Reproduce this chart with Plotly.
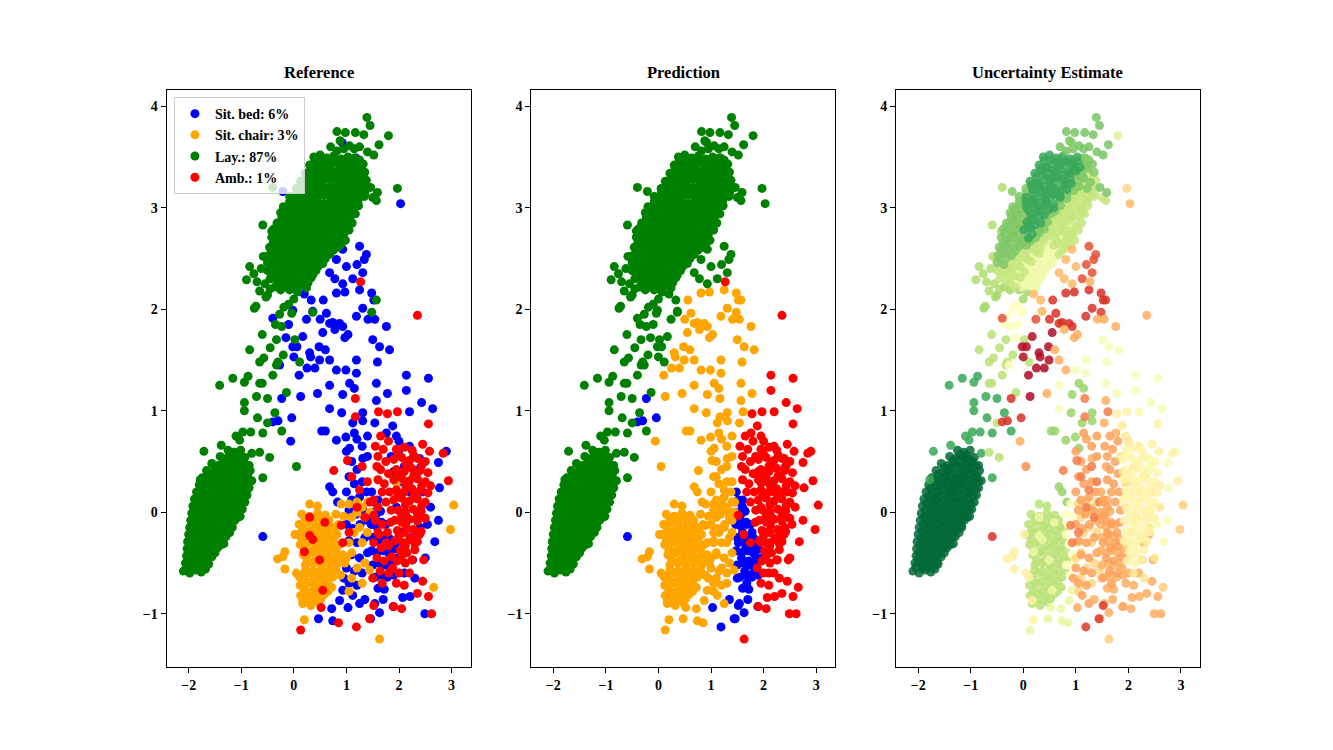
import plotly.graph_objects as go

CLASS_NAMES = ["Sit. bed: 6%", "Sit. chair: 3%", "Lay.: 87%", "Amb.: 1%"]
CLASS_COLORS = ["blue", "orange", "green", "red"]
PANEL_TITLES = ["Reference", "Prediction", "Uncertainty Estimate"]
X_TICKS = [-2, -1, 0, 1, 2, 3]
Y_TICKS = [-1, 0, 1, 2, 3, 4]

# class codes: 0 Sit. bed, 1 Sit. chair, 2 Lay., 3 Amb.
# each list holds (x, y) points

# lower "Lay" cluster
lay_low = [
    (-2.1, -0.58), (-1.98, -0.6), (-1.86, -0.57), (-1.76, -0.59),
    (-2.06, -0.5), (-1.94, -0.52), (-1.82, -0.5), (-1.7, -0.53), (-1.62, -0.51),
    (-2.04, -0.43), (-1.92, -0.45), (-1.8, -0.43), (-1.68, -0.46), (-1.56, -0.44),
    (-2.03, -0.36), (-1.91, -0.38), (-1.79, -0.36), (-1.67, -0.39), (-1.55, -0.37), (-1.45, -0.35),
    (-2.02, -0.29), (-1.9, -0.31), (-1.78, -0.29), (-1.66, -0.32), (-1.54, -0.3), (-1.42, -0.28), (-1.33, -0.31),
    (-2.0, -0.22), (-1.88, -0.24), (-1.76, -0.22), (-1.64, -0.25), (-1.52, -0.23), (-1.4, -0.21), (-1.29, -0.24),
    (-1.98, -0.15), (-1.86, -0.17), (-1.74, -0.15), (-1.62, -0.18), (-1.5, -0.16), (-1.38, -0.14), (-1.26, -0.17), (-1.17, -0.15),
    (-1.96, -0.08), (-1.84, -0.1), (-1.72, -0.08), (-1.6, -0.11), (-1.48, -0.09), (-1.36, -0.07), (-1.24, -0.1), (-1.12, -0.08),
    (-1.94, -0.01), (-1.82, -0.03), (-1.7, -0.01), (-1.58, -0.04), (-1.46, -0.02), (-1.34, 0.0), (-1.22, -0.03), (-1.1, -0.01), (-1.02, -0.04),
    (-1.92, 0.06), (-1.8, 0.04), (-1.68, 0.06), (-1.56, 0.03), (-1.44, 0.05), (-1.32, 0.07), (-1.2, 0.04), (-1.08, 0.06), (-0.98, 0.03),
    (-1.89, 0.13), (-1.77, 0.11), (-1.65, 0.13), (-1.53, 0.1), (-1.41, 0.12), (-1.29, 0.14), (-1.17, 0.11), (-1.05, 0.13), (-0.93, 0.1),
    (-1.85, 0.2), (-1.73, 0.18), (-1.61, 0.2), (-1.49, 0.17), (-1.37, 0.19), (-1.25, 0.21), (-1.13, 0.18), (-1.01, 0.2), (-0.89, 0.17),
    (-1.8, 0.27), (-1.68, 0.25), (-1.56, 0.27), (-1.44, 0.24), (-1.32, 0.26), (-1.2, 0.28), (-1.08, 0.25), (-0.96, 0.27), (-0.85, 0.24),
    (-1.74, 0.34), (-1.62, 0.32), (-1.5, 0.34), (-1.38, 0.31), (-1.26, 0.33), (-1.14, 0.35), (-1.02, 0.32), (-0.9, 0.34), (-0.8, 0.31),
    (-1.66, 0.41), (-1.54, 0.39), (-1.42, 0.41), (-1.3, 0.38), (-1.18, 0.4), (-1.06, 0.42), (-0.94, 0.39), (-0.83, 0.41),
    (-1.56, 0.48), (-1.44, 0.46), (-1.32, 0.48), (-1.2, 0.45), (-1.08, 0.47), (-0.96, 0.49), (-0.85, 0.46),
    (-1.4, 0.55), (-1.28, 0.53), (-1.16, 0.55), (-1.04, 0.52), (-0.93, 0.54),
    (-1.25, 0.61), (-1.13, 0.59), (-1.01, 0.61),
    # in between the rows above
    (-2.04, -0.54), (-1.92, -0.55), (-1.8, -0.54), (-1.68, -0.56),
    (-2.0, -0.47), (-1.88, -0.48), (-1.76, -0.47), (-1.64, -0.49),
    (-1.98, -0.4), (-1.86, -0.41), (-1.74, -0.4), (-1.62, -0.42), (-1.5, -0.4),
    (-1.96, -0.33), (-1.84, -0.34), (-1.72, -0.33), (-1.6, -0.35), (-1.48, -0.33), (-1.38, -0.32),
    (-1.94, -0.26), (-1.82, -0.27), (-1.7, -0.26), (-1.58, -0.28), (-1.46, -0.26), (-1.35, -0.25),
    (-1.92, -0.19), (-1.8, -0.2), (-1.68, -0.19), (-1.56, -0.21), (-1.44, -0.19), (-1.32, -0.18), (-1.22, -0.2),
    (-1.9, -0.12), (-1.78, -0.13), (-1.66, -0.12), (-1.54, -0.14), (-1.42, -0.12), (-1.3, -0.11), (-1.18, -0.13),
    (-1.88, -0.05), (-1.76, -0.06), (-1.64, -0.05), (-1.52, -0.07), (-1.4, -0.05), (-1.28, -0.04), (-1.16, -0.06), (-1.06, -0.05),
    (-1.86, 0.02), (-1.74, 0.01), (-1.62, 0.02), (-1.5, 0.0), (-1.38, 0.02), (-1.26, 0.03), (-1.14, 0.01), (-1.03, 0.02),
    (-1.84, 0.09), (-1.71, 0.08), (-1.59, 0.09), (-1.47, 0.07), (-1.35, 0.09), (-1.23, 0.1), (-1.11, 0.08), (-0.99, 0.09),
    (-1.8, 0.16), (-1.67, 0.15), (-1.55, 0.16), (-1.43, 0.14), (-1.31, 0.16), (-1.19, 0.17), (-1.07, 0.15), (-0.95, 0.16),
    (-1.76, 0.23), (-1.62, 0.22), (-1.5, 0.23), (-1.38, 0.21), (-1.26, 0.23), (-1.14, 0.24), (-1.02, 0.22), (-0.9, 0.23),
    (-1.7, 0.3), (-1.56, 0.29), (-1.44, 0.3), (-1.32, 0.28), (-1.2, 0.3), (-1.08, 0.31), (-0.96, 0.29), (-0.85, 0.3),
    (-1.62, 0.37), (-1.48, 0.36), (-1.36, 0.37), (-1.24, 0.35), (-1.12, 0.37), (-1.0, 0.38), (-0.88, 0.36),
    (-1.5, 0.44), (-1.38, 0.43), (-1.26, 0.44), (-1.14, 0.42), (-1.02, 0.44), (-0.9, 0.45),
    (-1.34, 0.51), (-1.22, 0.5), (-1.1, 0.51), (-0.98, 0.5),
    (-1.2, 0.57), (-1.08, 0.56),
]

# upper "Lay" cluster, split by how certain the estimate looks
lay_up_dark = [
    (0.38, 3.5), (0.5, 3.52), (0.63, 3.49), (0.76, 3.51), (0.9, 3.48), (1.03, 3.5),
    (0.3, 3.42), (0.43, 3.4), (0.56, 3.43), (0.69, 3.41), (0.82, 3.44), (0.95, 3.42), (1.08, 3.4),
    (0.22, 3.34), (0.35, 3.36), (0.48, 3.33), (0.61, 3.35), (0.74, 3.32), (0.87, 3.34), (1.0, 3.36),
    (0.13, 3.26), (0.26, 3.24), (0.39, 3.27), (0.52, 3.25), (0.65, 3.28), (0.78, 3.26), (0.91, 3.24),
    (0.18, 3.18), (0.31, 3.2), (0.44, 3.17), (0.57, 3.19), (0.7, 3.16), (0.83, 3.18),
    (0.05, 3.1), (0.18, 3.08), (0.31, 3.11), (0.44, 3.09), (0.57, 3.12), (0.7, 3.1),
    (0.06, 3.02), (0.19, 3.04), (0.32, 3.01), (0.45, 3.03), (0.58, 3.0),
    (0.14, 2.94), (0.27, 2.96), (0.4, 2.93),
    (0.07, 2.86), (0.2, 2.88), (0.33, 2.85),
    (0.01, 2.78), (0.14, 2.8), (0.1, 2.7),
    # in between the rows above
    (0.4, 3.46), (0.53, 3.47), (0.66, 3.45), (0.79, 3.46), (0.92, 3.44), (1.05, 3.46),
    (0.32, 3.38), (0.45, 3.39), (0.58, 3.37), (0.71, 3.38), (0.84, 3.36), (0.97, 3.38),
    (0.24, 3.3), (0.37, 3.31), (0.5, 3.29), (0.63, 3.3), (0.76, 3.28), (0.89, 3.3),
    (0.15, 3.22), (0.28, 3.23), (0.41, 3.21), (0.54, 3.22), (0.67, 3.2), (0.8, 3.22),
    (0.18, 3.14), (0.31, 3.15), (0.44, 3.13), (0.57, 3.14), (0.7, 3.12),
    (0.05, 3.06), (0.18, 3.07), (0.31, 3.05), (0.44, 3.06), (0.57, 3.04),
    (0.09, 2.98), (0.22, 2.99), (0.35, 2.97), (0.48, 2.98),
    (0.16, 2.9), (0.29, 2.91), (0.09, 2.82), (0.22, 2.83), (0.17, 2.74),
]
lay_up_mid = [
    (1.15, 3.49), (1.25, 3.47), (1.2, 3.41), (1.32, 3.43), (1.12, 3.33), (1.35, 3.35), (1.04, 3.27),
    (1.28, 3.25), (0.05, 3.19), (0.96, 3.17), (1.22, 3.19), (-0.08, 3.11), (0.83, 3.09), (-0.2, 3.01),
    (-0.07, 3.03), (0.71, 3.02), (-0.25, 2.95), (-0.12, 2.93), (0.01, 2.95), (0.53, 2.94),
    (-0.32, 2.85), (-0.19, 2.87), (-0.06, 2.84), (0.46, 2.86), (-0.38, 2.79), (-0.25, 2.77),
    (-0.12, 2.79), (0.27, 2.77), (0.4, 2.79), (-0.42, 2.71), (-0.29, 2.69), (-0.16, 2.71),
    (-0.03, 2.68), (0.23, 2.7), (-0.46, 2.61), (-0.33, 2.63), (-0.2, 2.6), (-0.07, 2.62),
    (0.06, 2.63), (-0.48, 2.53), (-0.35, 2.55), (-0.22, 2.53), (-0.5, 2.46), (-0.37, 2.44),
    # in between the rows above
    (1.18, 3.45), (1.1, 3.37), (1.23, 3.39), (1.02, 3.31), (1.15, 3.29), (0.93, 3.23), (1.06, 3.21),
    (0.05, 3.14), (0.83, 3.13), (-0.08, 3.06), (0.7, 3.07), (-0.17, 2.98), (-0.04, 2.99), (0.61, 2.97),
    (-0.23, 2.9), (-0.1, 2.91), (0.03, 2.89), (0.42, 2.9), (-0.3, 2.82), (-0.17, 2.83), (-0.04, 2.81),
    (0.35, 2.82), (-0.35, 2.74), (-0.22, 2.75), (-0.09, 2.73), (0.04, 2.74), (0.3, 2.75),
    (-0.39, 2.66), (-0.26, 2.67), (-0.13, 2.65), (0.0, 2.66), (0.13, 2.67), (-0.42, 2.58),
    (-0.29, 2.59), (-0.16, 2.57), (-0.44, 2.5), (-0.31, 2.51),
]
lay_up_light = [
    (1.24, 3.33), (1.16, 3.25), (1.38, 3.27), (1.09, 3.19), (1.36, 3.17),
    (0.96, 3.1), (1.09, 3.12), (1.22, 3.09), (1.34, 3.11), (1.5, 3.1), (1.57, 3.07),
    (0.84, 3.01), (0.97, 3.03), (1.1, 3.0), (1.23, 3.02),
    (0.66, 2.93), (0.79, 2.95), (0.92, 2.92), (1.17, 2.94),
    (0.59, 2.87), (0.72, 2.85), (0.85, 2.87), (1.11, 2.85),
    (0.53, 2.78), (0.66, 2.76), (0.79, 2.79), (0.92, 2.77), (1.05, 2.78),
    (0.36, 2.7), (0.49, 2.72), (0.62, 2.69), (0.88, 2.71), (0.98, 2.68),
    (0.19, 2.62), (0.32, 2.6), (0.58, 2.63), (0.84, 2.61),
    (-0.09, 2.55), (0.04, 2.53), (0.3, 2.55), (0.68, 2.54),
    (-0.24, 2.47), (-0.11, 2.45), (0.15, 2.47),
    (-0.5, 2.38), (-0.37, 2.36), (-0.24, 2.39), (0.02, 2.37),
    (-0.45, 2.3), (-0.32, 2.28), (-0.06, 2.31), (-0.15, 2.22),
    # in between the rows above
    (1.28, 3.29), (1.19, 3.21), (1.32, 3.22), (0.96, 3.14), (1.09, 3.15), (1.22, 3.13), (1.35, 3.14),
    (0.83, 3.06), (0.96, 3.07), (1.09, 3.05), (1.22, 3.06), (0.74, 2.98), (0.87, 2.99), (1.0, 2.97),
    (1.13, 2.98), (0.55, 2.9), (0.68, 2.91), (0.81, 2.89), (0.94, 2.9), (1.07, 2.91), (0.48, 2.82),
    (0.61, 2.83), (0.74, 2.81), (1.0, 2.82), (0.43, 2.74), (0.56, 2.75), (0.82, 2.73), (0.95, 2.74),
    (0.26, 2.66), (0.39, 2.67), (0.65, 2.65), (0.78, 2.66), (0.9, 2.64), (-0.03, 2.58), (0.1, 2.59),
    (0.23, 2.57), (0.75, 2.58), (-0.18, 2.5), (-0.05, 2.51), (0.08, 2.49), (-0.45, 2.42),
    (-0.32, 2.43), (-0.19, 2.41), (-0.06, 2.42), (-0.42, 2.34), (-0.29, 2.35), (-0.16, 2.33),
    (-0.25, 2.26),
]
lay_up_yellow = [
    (1.05, 2.93), (0.98, 2.86), (0.75, 2.7), (0.45, 2.62), (0.71, 2.61), (0.17, 2.54), (0.43, 2.55),
    (0.56, 2.53), (0.02, 2.46), (0.28, 2.45), (0.41, 2.47), (0.55, 2.45), (-0.11, 2.38), (0.15, 2.39),
    (0.28, 2.37), (0.42, 2.38), (-0.19, 2.3), (0.07, 2.31), (0.2, 2.29), (0.33, 2.31), (-0.02, 2.22),
    (0.11, 2.23), (0.24, 2.21),
    # in between the rows above
    (0.87, 2.82), (0.69, 2.74), (0.52, 2.66), (0.36, 2.58), (0.49, 2.59), (0.62, 2.57), (0.21, 2.5),
    (0.34, 2.51), (0.47, 2.49), (0.6, 2.5), (0.07, 2.42), (0.2, 2.43), (0.33, 2.41), (0.46, 2.42),
    (-0.03, 2.34), (0.1, 2.35), (0.23, 2.33), (0.36, 2.34), (-0.12, 2.26), (0.01, 2.27), (0.14, 2.25),
    (0.27, 2.26),
]
lay_arm = [
    (-0.9, 2.29), (-0.84, 2.42), (-0.58, 2.52), (-0.7, 2.27), (-0.62, 2.4), (-0.76, 2.35),
    (-0.55, 2.25), (-0.45, 2.2), (-0.65, 2.18), (-0.59, 2.83), (-0.4, 3.2), (-0.42, 2.77),
]
lay_top = [
    (1.39, 3.89), (1.45, 3.81), (0.82, 3.75), (0.98, 3.74), (1.17, 3.74), (1.33, 3.72), (0.88, 3.66),
    (1.06, 3.61), (0.82, 3.56), (1.62, 3.62), (1.52, 3.52), (1.59, 3.15), (1.46, 3.2), (1.25, 3.6),
    (1.4, 3.55), (0.95, 3.58), (1.15, 3.58), (0.7, 3.6),
]
lay_top_pale = [(1.8, 3.71)]
lay_far = [(1.97, 3.19)]

# "Lay" points between the two clusters
lay_bridge_a = [
    (-1.71, 0.6), (-1.38, 0.66), (-1.78, 0.32), (-1.03, 0.71), (-0.97, 0.79), (-0.82, 0.79),
    (-0.59, 0.78), (-0.59, 0.34), (-0.23, 0.8), (-0.36, 0.98), (-0.69, 0.93), (-0.94, 1.0),
    (-0.94, 1.08), (-0.71, 1.14), (-0.5, 1.12), (-1.41, 1.25), (-1.16, 1.32), (-0.94, 1.28),
    (-0.87, 1.34), (-1.1, 0.75), (-0.8, 0.58),
]
lay_bridge_b = [
    (-0.65, 0.59), (-0.46, 0.54), (-0.14, 1.18), (-0.65, 1.27), (-0.6, 1.27), (-0.84, 1.6),
    (-0.65, 1.48), (-0.57, 1.52), (-0.33, 1.45), (-0.3, 1.48), (0.02, 1.7), (0.11, 1.48),
    (-0.33, 1.7), (-0.5, 0.88), (-0.4, 1.35), (-0.2, 1.55), (-0.45, 1.62), (-0.6, 1.75),
]
lay_bridge_c = [(-0.23, 1.83), (-0.27, 1.95), (-0.19, 2.02), (-0.04, 1.96), (-0.35, 1.85), (-0.1, 2.05), (0.36, 1.97)]
lay_bridge_d = [
    (-0.75, 2.01), (-0.72, 2.03), (-0.5, 2.14), (-0.53, 2.12), (-0.36, 2.22), (-0.25, 2.19),
    (-0.08, 2.19), (0.07, 2.17), (0.0, 2.1),
]
lay_to_chair = [(0.05, 0.45)]
lay_to_chair_hot = [(1.57, 2.09), (1.48, 1.97)]

# "Sit. bed" reference points, split by predicted class and certainty
bed_lay_a = [(0.93, 2.59), (0.81, 2.49), (0.68, 2.36), (0.93, 2.25), (1.0, 2.42), (0.78, 2.3),
             (0.2, 2.15), (0.33, 2.09), (0.36, 1.98), (2.03, 3.04)]
bed_lay_b = [(1.38, 2.54), (1.34, 2.49), (1.31, 2.36), (1.12, 2.3), (1.2, 2.44), (-0.4, 1.91),
             (1.25, 2.62), (0.24, 1.9)]
bed_lay_c = [(0.17, 1.73), (-0.02, 1.63), (0.0, 1.53), (0.06, 1.63)]
bed_lay_d = [(-0.02, 1.99), (-0.1, 1.85), (-0.27, 1.45), (-0.15, 1.72)]
bed_lay_e = [(-0.21, 3.16), (0.92, 3.64), (1.18, 3.49)]

bed_chair_a = [(0.81, 2.16), (0.56, 2.09), (0.97, 2.17), (0.68, 1.86), (0.5, 1.9), (0.87, 1.86),
               (1.19, 1.93), (1.25, 2.19), (1.48, 2.16), (1.52, 2.09), (1.31, 2.01), (0.62, 1.96),
               (0.74, 1.87), (0.93, 1.83)]
bed_chair_b = [(0.3, 1.57), (0.49, 1.5), (0.1, 1.35), (0.32, 1.53), (0.48, 1.63), (0.4, 1.42),
               (0.25, 1.42), (0.55, 1.77), (0.13, 1.14)]
bed_chair_c = [(0.78, 1.8), (0.97, 1.72), (1.03, 1.75), (1.41, 1.9), (1.54, 1.9), (1.76, 1.83),
               (0.81, 1.4), (0.68, 1.5), (0.6, 1.6), (1.57, 1.1), (1.54, 0.88), (1.31, 0.53),
               (-0.06, 0.7), (0.45, 1.17)]
bed_chair_d = [(1.19, 1.37), (1.19, 1.5), (1.5, 1.7), (1.63, 1.63), (1.82, 1.6), (1.59, 1.48),
               (0.68, 1.25), (1.57, 1.27), (1.78, 1.17), (0.68, 1.02), (0.99, 1.4)]
bed_chair_e = [(0.93, 1.16), (1.06, 1.27), (1.15, 1.22), (0.91, 0.98), (0.53, 0.8), (0.6, 0.8),
               (0.81, 0.71), (0.99, 0.74), (1.12, 0.88), (1.31, 0.98), (1.31, 0.9), (1.06, 0.63),
               (0.68, 0.25), (0.74, 0.2), (0.83, 0.1)]
bed_chair_lr = [
    (1.0, 0.6), (1.1, 0.5), (1.2, 0.42), (1.05, 0.35), (1.15, 0.28), (1.3, 0.3), (1.0, 0.2),
    (1.1, 0.12), (1.25, 0.15), (1.38, 0.2), (1.05, 0.02), (1.18, -0.02), (1.32, 0.02), (1.0, -0.12),
    (1.12, -0.16), (1.26, -0.12), (1.4, -0.08), (1.05, -0.28), (1.2, -0.3), (1.35, -0.25),
    (1.1, -0.42), (1.25, -0.45), (1.4, -0.4), (1.0, -0.55), (1.15, -0.58), (1.3, -0.6),
    (1.05, -0.7), (1.2, -0.72), (0.95, -0.65), (1.12, -0.82), (1.25, -0.9), (1.2, 0.72),
    (1.3, 0.65), (1.4, 0.55), (1.4, 0.75), (1.15, 0.78),
]
bed_chair_low = [(0.93, -0.77), (0.87, -0.87), (0.72, -0.95), (0.74, -1.07), (0.47, -1.05)]
bed_amb_a = [(2.14, 1.35), (2.56, 1.32), (2.14, 1.2), (2.43, 1.08), (2.64, 1.02), (2.2, 0.99),
             (1.99, 0.59), (2.39, 0.53), (2.41, 0.44), (2.75, 0.49), (2.9, 0.6), (2.77, 0.24),
             (2.54, -0.12), (2.75, -0.08), (2.68, -0.29)]
bed_amb_b = [(1.76, 0.78), (2.26, -0.47), (2.07, -0.84), (2.21, -0.83), (2.49, -1.0)]
bed_amb_lr = [
    (1.9, 0.4), (2.0, 0.3), (2.1, 0.45), (2.2, 0.2), (2.3, 0.35), (1.95, 0.05), (2.15, -0.05),
    (2.35, 0.0), (2.45, 0.2), (2.05, -0.2), (2.25, -0.25), (2.4, -0.15), (1.95, -0.3), (2.1, -0.6),
    (2.3, -0.65), (2.0, 0.7), (2.2, 0.65), (2.5, -0.45), (2.6, 0.05), (1.85, 0.55), (1.88, 0.85),
    (1.95, 0.75),
]
bed_bed_mid = [(-0.04, 0.93), (-0.23, 1.12), (-0.4, 0.89), (-0.3, 0.9), (-0.59, -0.24)]
bed_bed_lr = [
    (1.48, 0.2), (1.52, 0.1), (1.6, 0.12), (1.48, 0.0), (1.57, -0.02), (1.65, 0.01), (1.47, -0.12),
    (1.57, -0.14), (1.67, -0.1), (1.75, -0.12), (1.5, -0.25), (1.6, -0.28), (1.72, -0.24),
    (1.82, -0.26), (1.48, -0.38), (1.58, -0.4), (1.7, -0.38), (1.8, -0.4), (1.92, -0.36),
    (1.5, -0.52), (1.62, -0.5), (1.74, -0.52), (1.86, -0.5), (1.96, -0.45), (1.55, -0.64),
    (1.66, -0.62), (1.78, -0.64), (1.9, -0.62), (1.6, -0.75), (1.72, -0.76), (1.54, -0.9),
    (1.63, -0.99), (1.46, -1.05), (1.89, -0.93), (1.7, -0.86), (1.35, -0.86), (1.03, -0.94),
]

# "Sit. chair" reference points
chair_main = [
    (0.3, 0.08), (0.45, 0.06),
    (0.15, -0.02), (0.3, -0.04), (0.45, -0.01), (0.6, -0.03),
    (0.1, -0.12), (0.25, -0.1), (0.4, -0.13), (0.55, -0.11), (0.7, -0.14),
    (0.08, -0.22), (0.22, -0.2), (0.37, -0.23), (0.52, -0.21), (0.67, -0.24),
    (0.12, -0.32), (0.27, -0.3), (0.42, -0.33), (0.57, -0.31), (0.72, -0.34),
    (0.18, -0.42), (0.33, -0.4), (0.48, -0.43), (0.63, -0.41), (0.78, -0.44),
    (0.22, -0.52), (0.37, -0.5), (0.52, -0.53), (0.67, -0.51),
    (0.14, -0.62), (0.29, -0.6), (0.44, -0.63), (0.59, -0.61), (0.74, -0.64),
    (0.12, -0.72), (0.27, -0.7), (0.42, -0.73), (0.57, -0.71), (0.72, -0.74),
    (0.13, -0.82), (0.28, -0.8), (0.43, -0.83), (0.58, -0.81),
    (0.17, -0.9), (0.32, -0.92), (0.47, -0.89),
    # in between the rows above
    (0.22, -0.07), (0.37, -0.08), (0.52, -0.06), (0.67, -0.08),
    (0.17, -0.17), (0.32, -0.18), (0.47, -0.16), (0.62, -0.18), (0.77, -0.17),
    (0.15, -0.27), (0.3, -0.28), (0.45, -0.26), (0.6, -0.28), (0.75, -0.27),
    (0.2, -0.37), (0.35, -0.38), (0.5, -0.36), (0.65, -0.38), (0.8, -0.37),
    (0.25, -0.47), (0.4, -0.48), (0.55, -0.46), (0.7, -0.48), (0.85, -0.47),
    (0.22, -0.57), (0.37, -0.58), (0.52, -0.56), (0.67, -0.58), (0.8, -0.57),
    (0.2, -0.67), (0.35, -0.68), (0.5, -0.66), (0.65, -0.68),
    (0.2, -0.77), (0.35, -0.78), (0.5, -0.76), (0.65, -0.78),
    (0.22, -0.86), (0.37, -0.87), (0.52, -0.85),
]
chair_mid = [(0.9, 0.08), (0.8, -0.02), (0.95, -0.04), (0.85, -0.12), (0.82, -0.22), (0.87, -0.32),
             (0.93, -0.42), (0.82, -0.52), (0.97, -0.5), (0.89, -0.62)]
chair_right = [(1.05, 0.08), (1.2, 0.1), (1.1, -0.05), (1.2, 0.0), (1.3, 0.05), (1.4, 0.1),
               (1.05, -0.3), (1.15, -0.2), (1.25, -0.15), (1.35, -0.05), (1.45, 0.0), (1.0, -0.45),
               (1.1, -0.4), (1.3, -0.3), (1.4, -0.2), (1.2, -0.55), (1.35, -0.5), (1.44, -0.57),
               (1.1, -0.65), (1.3, -0.7), (1.05, -0.78)]
chair_out = [(0.02, -0.22), (-0.17, -0.39), (-0.21, -0.44), (-0.31, -0.46), (-0.17, -0.56),
             (0.11, -0.64), (0.17, -0.87), (0.2, -1.06), (0.05, -0.6)]
chair_amb = [(1.95, 0.29), (2.66, -0.74), (3.04, 0.07), (2.98, -0.17), (1.63, -1.25)]

# "Amb." reference points
amb_core = [
    (1.95, 0.62), (2.1, 0.64), (2.25, 0.61),
    (1.9, 0.52), (2.05, 0.54), (2.2, 0.51), (2.35, 0.53), (2.5, 0.5),
    (1.95, 0.42), (2.1, 0.4), (2.25, 0.43), (2.4, 0.41), (2.55, 0.39),
    (1.9, 0.32), (2.05, 0.34), (2.2, 0.31), (2.35, 0.33), (2.5, 0.3),
    (1.95, 0.22), (2.1, 0.2), (2.25, 0.23), (2.4, 0.21), (2.55, 0.19),
    (1.9, 0.12), (2.05, 0.14), (2.2, 0.11), (2.35, 0.13), (2.5, 0.1),
    (1.98, 0.02), (2.12, 0.0), (2.27, 0.03), (2.42, 0.01),
    (1.92, -0.08), (2.05, -0.1), (2.2, -0.07), (2.35, -0.09), (2.5, -0.06),
    (1.97, -0.18), (2.12, -0.2), (2.27, -0.17), (2.42, -0.19),
    (1.92, -0.28), (2.07, -0.3), (2.2, -0.27), (2.35, -0.29),
    (2.02, -0.38), (2.15, -0.4), (2.3, -0.37),
    (1.97, -0.48), (2.12, -0.5), (2.25, -0.47),
    # in between the rows above
    (1.98, 0.57), (2.28, 0.56), (2.13, 0.47), (2.43, 0.46), (1.98, 0.37), (2.28, 0.36),
    (2.12, 0.27), (2.43, 0.26), (1.98, 0.17), (2.28, 0.16), (2.12, 0.07), (2.43, 0.06),
    (2.05, -0.03), (2.35, -0.04), (2.13, -0.13), (2.0, -0.23), (2.3, -0.23), (2.12, -0.33),
    (2.05, -0.43),
]
amb_mid = [(1.65, 0.75), (1.8, 0.7), (1.7, 0.62), (1.6, 0.55), (1.75, 0.5), (1.65, 0.42),
           (1.8, 0.38), (1.6, 0.32), (1.72, 0.28), (1.82, 0.2), (1.68, 0.2), (1.75, 0.1),
           (1.85, 0.02), (1.84, -0.1), (1.62, -0.22), (1.75, -0.3), (1.52, -0.03), (1.55, 0.65),
           (1.58, 0.45)]
amb_out = [(2.3, -0.31), (2.39, -0.22), (2.47, -0.47), (2.45, -0.68), (2.56, -0.83), (2.62, -1.0),
           (1.9, -0.93), (2.05, -0.95), (2.2, -0.6), (2.1, -0.72), (1.95, -0.7), (2.35, -0.8),
           (1.88, -0.55), (2.0, -0.6)]
amb_far = [(2.56, 0.87), (2.45, 0.67), (2.58, 0.6), (2.84, 0.58), (2.94, 0.31), (2.6, 0.26),
           (1.97, 0.99), (1.78, 0.97)]
amb_top = [(2.35, 1.94), (1.27, 2.27)]
amb_chair = [(1.17, 1.12), (1.17, 0.94), (1.02, 0.51), (0.76, 0.41), (1.1, 0.35), (1.25, 0.22),
             (1.4, 0.3), (1.2, 0.05), (1.35, -0.05), (1.3, 0.45), (1.45, 0.1), (0.9, -0.13),
             (0.93, -0.3), (1.05, -0.2), (1.61, 0.99)]
amb_chair_low = [(0.3, -0.05), (0.59, -0.1), (0.3, -0.23), (0.36, -0.27), (0.2, -0.39),
                 (0.49, -0.47), (0.55, -0.77), (0.52, -0.94), (0.85, -1.09), (0.13, -1.16)]
amb_bed = [(1.19, -1.13), (1.44, -1.05), (1.52, -0.92)]
amb_bed_w = [(1.52, 0.12), (1.6, 0.05), (1.55, -0.08), (1.68, -0.12), (1.6, -0.2), (1.78, -0.2),
             (1.52, -0.3), (1.66, -0.35), (1.8, -0.33), (1.58, -0.45), (1.72, -0.48), (1.86, -0.44),
             (1.64, -0.58), (1.8, -0.6), (1.68, -0.7), (1.5, -0.65)]

# (points, reference class, predicted class, certainty: 0 = red ... 1 = green)
# the order here is the drawing order of the uncertainty panel
GROUPS = [
    (lay_low, 2, 2, 1.0),
    (lay_bridge_a, 2, 2, 0.86),
    (lay_bridge_b, 2, 2, 0.66),
    (lay_bridge_c, 2, 2, 0.5),
    (lay_bridge_d, 2, 2, 0.7),
    (lay_arm, 2, 2, 0.68),
    (lay_up_yellow, 2, 2, 0.54),
    (lay_up_light, 2, 2, 0.64),
    (lay_up_mid, 2, 2, 0.76),
    (lay_up_dark, 2, 2, 0.86),
    (lay_top, 2, 2, 0.77),
    (lay_top_pale, 2, 2, 0.58),
    (lay_far, 2, 2, 0.38),
    (lay_to_chair, 2, 1, 0.25),
    (lay_to_chair_hot, 2, 1, 0.12),
    (bed_lay_a, 0, 2, 0.32),
    (bed_lay_b, 0, 2, 0.15),
    (bed_lay_c, 0, 2, 0.03),
    (bed_lay_d, 0, 2, 0.5),
    (bed_lay_e, 0, 2, 0.75),
    (bed_chair_a, 0, 1, 0.1),
    (bed_chair_b, 0, 1, 0.02),
    (bed_chair_c, 0, 1, 0.3),
    (bed_chair_d, 0, 1, 0.52),
    (bed_chair_e, 0, 1, 0.72),
    (bed_bed_mid, 0, 0, 0.1),
    (chair_main, 1, 1, 0.66),
    (chair_mid, 1, 1, 0.5),
    (chair_out, 1, 1, 0.45),
    (amb_chair_low, 3, 1, 0.55),
    (bed_chair_low, 0, 1, 0.55),
    (chair_right, 1, 1, 0.38),
    (bed_chair_lr, 0, 1, 0.28),
    (amb_chair, 3, 1, 0.22),
    (bed_bed_lr, 0, 0, 0.3),
    (amb_bed_w, 3, 0, 0.28),
    (amb_bed, 3, 0, 0.12),
    (amb_mid, 3, 3, 0.28),
    (amb_out, 3, 3, 0.3),
    (bed_amb_b, 0, 3, 0.3),
    (chair_amb, 1, 3, 0.36),
    (amb_top, 3, 3, 0.3),
    (bed_amb_lr, 0, 3, 0.42),
    (amb_core, 3, 3, 0.46),
    (bed_amb_a, 0, 3, 0.52),
    (amb_far, 3, 3, 0.45),
]

FONT = "Liberation Serif"
MARKER_SIZE = 9
# the page has an 8px body margin, so the figure is 1317x734 and starts at (8, 8)
DOMAINS = [[0.1204, 0.3512], [0.3973, 0.6280], [0.6743, 0.9050]]
Y_DOMAIN = [0.1015, 0.8883]
X_RANGE = [-2.42, 3.36]
Y_RANGE = [-1.53, 4.16]

fig = go.Figure()


def points_of(cls, col):
    xs, ys = [], []
    for pts, ref, pred, score in GROUPS:
        lab = ref if col == 1 else pred
        if lab == cls:
            xs += [p[0] for p in pts]
            ys += [p[1] for p in pts]
    return xs, ys


# panels 1 and 2: one trace per class, drawn in class order
for col in (1, 2):
    for cls in range(4):
        xs, ys = points_of(cls, col)
        fig.add_trace(go.Scatter(
            x=xs, y=ys, mode="markers", name=CLASS_NAMES[cls],
            showlegend=(col == 1), legendgroup=str(cls),
            xaxis="x" if col == 1 else "x2", yaxis="y" if col == 1 else "y2",
            marker=dict(size=MARKER_SIZE, color=CLASS_COLORS[cls], line=dict(width=0)),
            hoverinfo="skip",
        ))

# panel 3: certainty coloured
ux, uy, uc = [], [], []
for pts, ref, pred, score in GROUPS:
    for p in pts:
        ux.append(p[0])
        uy.append(p[1])
        uc.append(score)
fig.add_trace(go.Scatter(
    x=ux, y=uy, mode="markers", showlegend=False, xaxis="x3", yaxis="y3",
    marker=dict(size=MARKER_SIZE, color=uc, colorscale="RdYlGn", cmin=0, cmax=1,
                opacity=0.85, line=dict(width=0)),
    hoverinfo="skip",
))

tickfont = dict(family=FONT, size=14, color="black", weight="bold")
for i in range(3):
    sfx = "" if i == 0 else str(i + 1)
    fig.update_layout(**{
        "xaxis" + sfx: dict(domain=DOMAINS[i], range=X_RANGE, anchor="y" + sfx,
                            tickvals=X_TICKS, showgrid=False, zeroline=False,
                            showline=True, mirror=True, linecolor="black", linewidth=1,
                            ticks="outside", ticklen=5, tickcolor="black", tickfont=tickfont),
        "yaxis" + sfx: dict(domain=Y_DOMAIN, range=Y_RANGE, anchor="x" + sfx,
                            tickvals=Y_TICKS, showgrid=False, zeroline=False,
                            showline=True, mirror=True, linecolor="black", linewidth=1,
                            ticks="outside", ticklen=5, tickcolor="black", tickfont=tickfont),
    })
    fig.add_annotation(text=PANEL_TITLES[i], xref="paper", yref="paper",
                       x=(DOMAINS[i][0] + DOMAINS[i][1]) / 2, y=Y_DOMAIN[1], yshift=6,
                       xanchor="center", yanchor="bottom", showarrow=False,
                       font=dict(family=FONT, size=16.5, color="black", weight="bold"))

fig.update_layout(
    width=1317, height=734,
    margin=dict(l=0, r=0, t=0, b=0),
    paper_bgcolor="white", plot_bgcolor="white",
    legend=dict(x=0.1260, y=0.8787, xanchor="left", yanchor="top",
                bgcolor="rgba(255,255,255,0.8)", bordercolor="#cccccc", borderwidth=1,
                font=dict(family=FONT, size=14, color="black", weight="bold"),
                tracegroupgap=0),
)

fig.write_html("out.html")
